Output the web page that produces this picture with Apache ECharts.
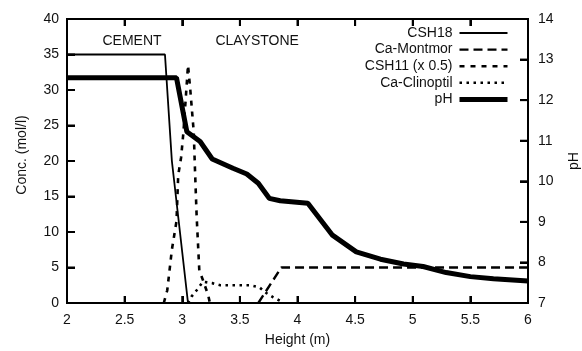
<!DOCTYPE html>
<html>
<head>
<meta charset="utf-8">
<script src="https://cdn.jsdelivr.net/npm/echarts@6/dist/echarts.min.js"></script>
<style>
  html, body { margin: 0; padding: 0; background: #fff; }
  #chart { width: 582px; height: 351px; }
</style>
</head>
<body>
<div id="chart"></div>
<script>
// Concentration profiles (mol/l) and pH along the cement / claystone column
const csh18 = [[2, 35], [2.85, 35], [2.91, 20], [3.05, 0]];
const caMontmor = [[3.66, 0], [3.86, 5], [6, 5]];
const csh11Half = [[2.84, 0], [2.87, 1.8], [2.91, 7.5], [2.95, 11.5], [2.965, 18], [2.99, 20.5],
                   [3.01, 24], [3.05, 33.5], [3.07, 30], [3.1, 24], [3.11, 19], [3.125, 12.2],
                   [3.148, 4.6], [3.18, 3.2], [3.225, 1.1], [3.24, 0]];
const caClinoptil = [[3.05, 0], [3.08, 0.9], [3.125, 1.8], [3.18, 3.0], [3.26, 2.8], [3.33, 2.5],
                     [3.46, 2.5], [3.59, 2.5], [3.67, 2.2], [3.73, 1.4], [3.79, 0.8], [3.85, 0.3], [3.88, 0]];
const pH = [[2, 12.55], [2.95, 12.55], [3.04, 11.22], [3.155, 10.98], [3.26, 10.55], [3.44, 10.32],
            [3.56, 10.18], [3.66, 9.95], [3.755, 9.58], [3.85, 9.52], [4.09, 9.46], [4.3, 8.68],
            [4.51, 8.26], [4.72, 8.08], [4.92, 7.96], [5.09, 7.9], [5.29, 7.75], [5.5, 7.65],
            [5.7, 7.6], [6, 7.54]];

// Tick positions on the three scales
const heightTicks = [2, 2.5, 3, 3.5, 4, 4.5, 5, 5.5, 6];
const concTicks = [0, 5, 10, 15, 20, 25, 30, 35, 40];
const pHTicks = [7, 8, 9, 10, 11, 12, 13, 14];

const seriesNames = ['CSH18', 'Ca-Montmor', 'CSH11 (x 0.5)', 'Ca-Clinoptil', 'pH'];
const zoneLabels = [{ text: 'CEMENT', x: 2.564, y: 36.9 }, { text: 'CLAYSTONE', x: 3.65, y: 36.9 }];
const axisTitles = { x: 'Height (m)', yLeft: 'Conc. (mol/l)', yRight: 'pH' };

const FONT = 'Liberation Sans';
const INK = '#111';

const chart = echarts.init(document.getElementById('chart'), null, { renderer: 'canvas' });

const lineSeries = (name, data, width, dash, yAxisIndex) => ({
  name, type: 'line', data, yAxisIndex: yAxisIndex || 0,
  symbol: 'none', showSymbol: false,
  lineStyle: { color: '#000', width, type: dash },
  itemStyle: { color: '#000' },
  z: 3
});

const frameLine = () => ({ show: true, onZero: false, lineStyle: { color: '#000', width: 2 } });
const frameTick = (len) => ({ show: true, inside: true, length: len, lineStyle: { color: '#000', width: 2 } });
const axisFont = (margin) => ({ fontFamily: FONT, fontSize: 14, color: INK, margin });

chart.setOption({
  animation: false,
  grid: {
    left: 67, right: 54, top: 19, bottom: 48, outerBoundsMode: 'none',
    show: true, borderColor: '#000', borderWidth: 2, backgroundColor: 'transparent'
  },
  legend: {
    data: seriesNames, orient: 'vertical', align: 'right',
    right: 72, top: 26, padding: 0,
    itemWidth: 48, itemHeight: 14, itemGap: 2.6,
    selectedMode: false,
    itemStyle: { opacity: 0 },
    lineStyle: { width: 'inherit' },
    textStyle: { fontFamily: FONT, fontSize: 14, color: INK, lineHeight: 14, padding: [0, 2, 0, 0] }
  },
  xAxis: [
    { type: 'value', min: 2, max: 6, interval: 0.5, position: 'bottom',
      axisLine: frameLine(), axisTick: frameTick(7), axisLabel: axisFont(10), splitLine: { show: false } },
    { type: 'value', min: 2, max: 6, interval: 0.5, position: 'top',
      axisLine: frameLine(), axisTick: frameTick(7), axisLabel: { show: false }, splitLine: { show: false } }
  ],
  yAxis: [
    { type: 'value', min: 0, max: 40, interval: 5, position: 'left',
      axisLine: frameLine(), axisTick: frameTick(8), axisLabel: axisFont(8), splitLine: { show: false } },
    { type: 'value', min: 7, max: 14, interval: 1, position: 'right',
      axisLine: frameLine(), axisTick: frameTick(8), axisLabel: axisFont(10), splitLine: { show: false } }
  ],
  series: [
    lineSeries('CSH18', csh18, 1.8, 'solid'),
    lineSeries('Ca-Montmor', caMontmor, 2.4, [9, 5]),
    lineSeries('CSH11 (x 0.5)', csh11Half, 2.6, [5, 6]),
    lineSeries('Ca-Clinoptil', caClinoptil, 2.6, [2.5, 4.5]),
    lineSeries('pH', pH, 5, 'solid', 1)
  ]
});

// Axis titles, zone captions and inward tick marks, positioned from the axes' pixel mapping
const toPx = (x, y) => chart.convertToPixel({ xAxisIndex: 0, yAxisIndex: 0 }, [x, y]);
const pHToPx = (v) => chart.convertToPixel({ yAxisIndex: 1 }, v);
const cornerBL = toPx(2, 0);
const cornerTR = toPx(6, 40);
const gLeft = cornerBL[0], gBottom = cornerBL[1], gRight = cornerTR[0], gTop = cornerTR[1];
const midX = (gLeft + gRight) / 2;
const midY = (gBottom + gTop) / 2;

const textEl = (text, x, y, rotation) => ({
  type: 'text', x, y, rotation: rotation || 0,
  style: { text, fontFamily: FONT, fontSize: 14, fill: INK, align: 'center', verticalAlign: 'middle' },
  z: 10
});
const tickEl = (x1, y1, x2, y2) => ({
  type: 'line', shape: { x1, y1, x2, y2 },
  style: { stroke: '#000', lineWidth: 2 }, silent: true, z: 5
});

const tickEls = [];
heightTicks.forEach(v => {
  const x = toPx(v, 0)[0];
  tickEls.push(tickEl(x, gBottom, x, gBottom - 7));
  tickEls.push(tickEl(x, gTop, x, gTop + 7));
});
concTicks.forEach(v => {
  const y = toPx(2, v)[1];
  tickEls.push(tickEl(gLeft, y, gLeft + 8, y));
});
pHTicks.forEach(v => {
  const y = pHToPx(v);
  tickEls.push(tickEl(gRight, y, gRight - 8, y));
});

chart.setOption({
  graphic: [
    ...tickEls,
    ...zoneLabels.map(z => { const p = toPx(z.x, z.y); return textEl(z.text, p[0], p[1]); }),
    textEl(axisTitles.x, midX, gBottom + 37),
    textEl(axisTitles.yLeft, gLeft - 45, midY - 6, Math.PI / 2),
    textEl(axisTitles.yRight, gRight + 46, midY, Math.PI / 2)
  ]
});
</script>
</body>
</html>
